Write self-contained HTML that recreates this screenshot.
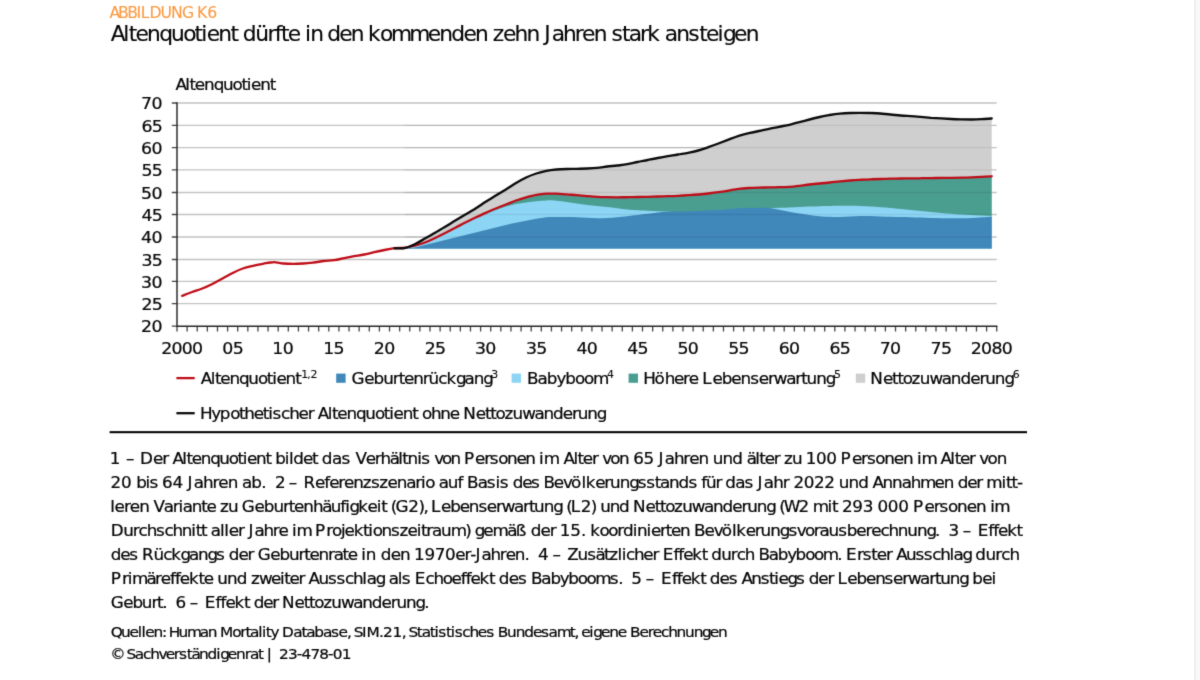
<!DOCTYPE html>
<html lang="de">
<head>
<meta charset="utf-8">
<title>Abbildung K6 – Altenquotient dürfte in den kommenden zehn Jahren stark ansteigen</title>
<style>
html,body{margin:0;padding:0;background:#fff}
body{width:1200px;height:680px;position:relative;overflow:hidden}
svg{position:absolute;left:0;top:0;display:block}
text{font-family:"DejaVu Sans","Liberation Sans",sans-serif;font-kerning:none;font-variant-ligatures:none;white-space:pre;stroke:currentColor;stroke-width:.22px;stroke-linejoin:round}
#fig{filter:url(#soft)}
text.sup,text.lab{stroke-width:.08px}
text.ttl{stroke-width:.14px}
.lab{font-size:15.7px;fill:#fb9940;color:#fb9940}
.ttl{font-size:21.4px;fill:#050505;color:#050505;transform:scaleX(1.0150)}
.t16{font-size:16px;fill:#050505;color:#050505;transform:scaleX(1.0500)}
.sup{font-size:10.5px;fill:#050505;color:#050505;transform:scaleX(1.0400)}
.src{font-size:14.6px;fill:#050505;color:#050505;transform:scaleX(1.0500)}
.axl text{font-size:16.7px;fill:#050505;color:#050505;transform:scaleX(1.0400)}
.grid{fill:none;stroke:#c2c2c2;stroke-width:1.3}
.grid2{fill:none;stroke:#000;stroke-opacity:.07;stroke-width:1.3}
.ln{fill:none;stroke-width:2.35;stroke-linejoin:round;stroke-linecap:round}
.ax{fill:none;stroke:#262626;stroke-width:1.45}
.tk{stroke:#444;stroke-width:1.3}
#edge{position:absolute;right:0;top:0;width:6px;height:680px;background:linear-gradient(90deg,#ececec 0,#f3f3f3 1.5px,#f8f8f8 3px,#f8f8f8 100%)}
</style>
</head>
<body>
<svg width="1200" height="680" viewBox="0 0 1200 680" role="img" aria-label="Abbildung K6: Altenquotient">
<defs><filter id="soft" x="0" y="0" width="1200" height="680" filterUnits="userSpaceOnUse" color-interpolation-filters="sRGB"><feConvolveMatrix order="3" kernelMatrix="0.0144 0.0912 0.0144 0.0912 0.5776 0.0912 0.0144 0.0912 0.0144" edgeMode="duplicate"/></filter></defs>
<g id="fig">
<g id="chart">
<path class="grid" d="M177.0,303.7H996.7M177.0,281.4H996.7M177.0,259.5H996.7M177.0,237.0H996.7M177.0,214.5H996.7M177.0,192.5H996.7M177.0,169.9H996.7M177.0,147.6H996.7M177.0,125.4H996.7M177.0,103.0H996.7"/>
<path fill="#cfcfcf" d="M404.7,248.0C406.4,247.4 411.4,245.8 414.8,244.2C418.2,242.6 421.6,240.5 424.9,238.6C428.3,236.7 431.7,234.8 435.1,232.8C438.4,230.8 441.8,228.8 445.2,226.8C448.6,224.8 451.9,222.6 455.3,220.6C458.7,218.6 462.0,216.6 465.4,214.6C468.8,212.6 472.2,210.6 475.5,208.5C478.9,206.4 482.3,204.0 485.7,201.8C489.0,199.7 492.4,197.7 495.8,195.6C499.2,193.5 502.5,191.5 505.9,189.4C509.3,187.3 512.6,185.0 516.0,183.0C519.4,181.0 522.8,179.1 526.1,177.5C529.5,175.9 532.9,174.6 536.3,173.5C539.6,172.4 543.0,171.5 546.4,170.8C549.8,170.1 553.1,169.8 556.5,169.5C559.9,169.2 563.2,169.1 566.6,169.0C570.0,168.9 573.4,168.9 576.7,168.8C580.1,168.7 583.5,168.7 586.9,168.5C590.2,168.3 593.6,168.1 597.0,167.8C600.4,167.5 603.7,166.9 607.1,166.5C610.5,166.1 613.8,165.9 617.2,165.5C620.6,165.1 624.0,164.8 627.3,164.2C630.7,163.6 634.1,162.7 637.5,162.0C640.8,161.3 644.2,160.7 647.6,160.0C651.0,159.3 654.3,158.6 657.7,158.0C661.1,157.4 664.4,156.8 667.8,156.2C671.2,155.6 674.6,155.1 677.9,154.5C681.3,153.9 684.7,153.5 688.1,152.8C691.4,152.1 694.8,151.4 698.2,150.5C701.6,149.6 704.9,148.4 708.3,147.2C711.7,146.0 715.0,144.8 718.4,143.5C721.8,142.2 725.2,140.9 728.5,139.6C731.9,138.3 735.3,136.9 738.7,135.8C742.0,134.7 745.4,134.0 748.8,133.2C752.2,132.4 755.5,131.7 758.9,131.0C762.3,130.3 765.6,129.5 769.0,128.8C772.4,128.1 775.8,127.5 779.1,126.8C782.5,126.1 785.9,125.6 789.3,124.8C792.6,124.0 796.0,123.1 799.4,122.2C802.8,121.3 806.1,120.4 809.5,119.5C812.9,118.6 816.2,117.8 819.6,117.0C823.0,116.2 826.4,115.6 829.7,115.0C833.1,114.4 836.5,113.9 839.9,113.6C843.2,113.3 846.6,113.1 850.0,113.0C853.4,112.9 856.7,112.8 860.1,112.8C863.5,112.8 866.8,112.9 870.2,113.0C873.6,113.1 877.0,113.2 880.3,113.5C883.7,113.8 887.1,114.2 890.5,114.5C893.8,114.8 897.2,115.2 900.6,115.5C904.0,115.8 907.3,115.9 910.7,116.1C914.1,116.3 917.4,116.6 920.8,116.9C924.2,117.2 927.6,117.5 930.9,117.8C934.3,118.0 937.7,118.2 941.1,118.4C944.4,118.6 947.8,118.8 951.2,119.0C954.6,119.2 957.9,119.3 961.3,119.4C964.7,119.5 968.0,119.5 971.4,119.5C974.8,119.5 978.2,119.4 981.5,119.2C984.9,119.0 990.0,118.6 991.7,118.5V248.5H404.7Z"/>
<path fill="#499e90" d="M404.7,247.8C406.4,247.4 411.4,246.4 414.8,245.5C418.2,244.6 421.6,243.8 424.9,242.5C428.3,241.2 431.7,239.6 435.1,238.0C438.4,236.4 441.8,234.7 445.2,233.0C448.6,231.3 451.9,229.6 455.3,227.8C458.7,226.1 462.0,224.2 465.4,222.5C468.8,220.8 472.2,219.1 475.5,217.5C478.9,215.9 482.3,214.3 485.7,212.8C489.0,211.3 492.4,209.9 495.8,208.5C499.2,207.1 502.5,205.8 505.9,204.5C509.3,203.2 512.6,201.7 516.0,200.5C519.4,199.3 522.8,198.2 526.1,197.3C529.5,196.4 532.9,195.5 536.3,194.9C539.6,194.3 543.0,193.9 546.4,193.7C549.8,193.5 553.1,193.6 556.5,193.7C559.9,193.8 563.2,194.2 566.6,194.4C570.0,194.7 573.4,194.9 576.7,195.2C580.1,195.5 583.5,195.8 586.9,196.1C590.2,196.4 593.6,196.6 597.0,196.8C600.4,197.0 603.7,197.1 607.1,197.2C610.5,197.3 613.8,197.3 617.2,197.3C620.6,197.3 624.0,197.2 627.3,197.2C630.7,197.1 634.1,197.1 637.5,197.0C640.8,196.9 644.2,196.9 647.6,196.8C651.0,196.7 654.3,196.6 657.7,196.5C661.1,196.4 664.4,196.3 667.8,196.2C671.2,196.1 674.6,196.0 677.9,195.8C681.3,195.6 684.7,195.4 688.1,195.2C691.4,195.0 694.8,194.8 698.2,194.5C701.6,194.2 704.9,193.9 708.3,193.5C711.7,193.1 715.0,192.7 718.4,192.2C721.8,191.7 725.2,191.2 728.5,190.6C731.9,190.0 735.3,189.2 738.7,188.8C742.0,188.4 745.4,188.2 748.8,188.0C752.2,187.8 755.5,187.7 758.9,187.6C762.3,187.5 765.6,187.5 769.0,187.4C772.4,187.3 775.8,187.3 779.1,187.2C782.5,187.1 785.9,187.0 789.3,186.8C792.6,186.6 796.0,186.2 799.4,185.8C802.8,185.4 806.1,184.9 809.5,184.5C812.9,184.1 816.2,183.8 819.6,183.5C823.0,183.2 826.4,182.8 829.7,182.5C833.1,182.2 836.5,181.7 839.9,181.4C843.2,181.1 846.6,180.8 850.0,180.5C853.4,180.2 856.7,180.0 860.1,179.8C863.5,179.6 866.8,179.4 870.2,179.3C873.6,179.2 877.0,179.1 880.3,179.0C883.7,178.9 887.1,178.8 890.5,178.7C893.8,178.6 897.2,178.6 900.6,178.5C904.0,178.4 907.3,178.4 910.7,178.3C914.1,178.2 917.4,178.2 920.8,178.2C924.2,178.1 927.6,178.1 930.9,178.1C934.3,178.0 937.7,178.0 941.1,177.9C944.4,177.9 947.8,177.8 951.2,177.8C954.6,177.8 957.9,177.8 961.3,177.7C964.7,177.6 968.0,177.5 971.4,177.4C974.8,177.3 978.2,177.1 981.5,176.9C984.9,176.7 990.0,176.4 991.7,176.3V248.5H404.7Z"/>
<path fill="#8dd5f5" d="M404.7,248.4C406.4,248.0 411.4,246.9 414.8,246.0C418.2,245.1 421.6,244.2 424.9,243.0C428.3,241.8 431.7,240.1 435.1,238.5C438.4,236.9 441.8,235.2 445.2,233.5C448.6,231.8 451.9,230.1 455.3,228.3C458.7,226.6 462.0,224.7 465.4,223.0C468.8,221.3 472.2,219.8 475.5,218.3C478.9,216.8 482.3,215.4 485.7,214.0C489.0,212.6 492.4,211.2 495.8,210.0C499.2,208.8 502.5,207.5 505.9,206.5C509.3,205.5 512.6,204.7 516.0,204.0C519.4,203.3 522.8,203.0 526.1,202.5C529.5,202.0 532.9,201.5 536.3,201.2C539.6,200.8 543.0,200.5 546.4,200.4C549.8,200.3 553.1,200.5 556.5,200.8C559.9,201.1 563.2,201.7 566.6,202.1C570.0,202.5 573.4,203.0 576.7,203.5C580.1,204.0 583.5,204.6 586.9,205.0C590.2,205.4 593.6,205.8 597.0,206.1C600.4,206.4 603.7,206.7 607.1,207.1C610.5,207.5 613.8,207.9 617.2,208.3C620.6,208.7 624.0,209.2 627.3,209.5C630.7,209.8 634.1,210.0 637.5,210.2C640.8,210.4 644.2,210.6 647.6,210.8C651.0,211.0 654.3,211.1 657.7,211.2C661.1,211.3 664.4,211.4 667.8,211.6C671.2,211.8 674.6,212.3 677.9,212.5C681.3,212.7 684.7,212.9 688.1,213.0C691.4,213.1 694.8,213.1 698.2,213.0C701.6,212.9 704.9,212.7 708.3,212.5C711.7,212.3 715.0,212.2 718.4,212.0C721.8,211.8 725.2,211.3 728.5,211.0C731.9,210.7 735.3,210.3 738.7,210.0C742.0,209.7 745.4,209.2 748.8,209.0C752.2,208.8 755.5,208.6 758.9,208.5C762.3,208.4 765.6,208.3 769.0,208.2C772.4,208.1 775.8,207.9 779.1,207.8C782.5,207.7 785.9,207.6 789.3,207.5C792.6,207.4 796.0,207.2 799.4,207.0C802.8,206.8 806.1,206.6 809.5,206.5C812.9,206.4 816.2,206.3 819.6,206.2C823.0,206.1 826.4,206.1 829.7,206.0C833.1,205.9 836.5,205.7 839.9,205.7C843.2,205.7 846.6,205.8 850.0,205.8C853.4,205.9 856.7,205.9 860.1,206.0C863.5,206.1 866.8,206.3 870.2,206.5C873.6,206.7 877.0,206.9 880.3,207.2C883.7,207.4 887.1,207.7 890.5,208.0C893.8,208.3 897.2,208.7 900.6,209.0C904.0,209.3 907.3,209.6 910.7,209.9C914.1,210.2 917.4,210.6 920.8,210.9C924.2,211.2 927.6,211.6 930.9,211.9C934.3,212.2 937.7,212.7 941.1,213.0C944.4,213.3 947.8,213.6 951.2,213.8C954.6,214.1 957.9,214.3 961.3,214.5C964.7,214.7 968.0,214.8 971.4,215.0C974.8,215.2 978.2,215.4 981.5,215.5C984.9,215.6 990.0,215.8 991.7,215.8V248.5H404.7Z"/>
<path fill="#4087ba" d="M404.7,248.4C406.4,248.2 411.4,248.1 414.8,247.5C418.2,246.9 421.6,245.8 424.9,245.0C428.3,244.2 431.7,243.3 435.1,242.5C438.4,241.7 441.8,240.8 445.2,240.0C448.6,239.2 451.9,238.3 455.3,237.5C458.7,236.7 462.0,235.8 465.4,235.0C468.8,234.2 472.2,233.3 475.5,232.5C478.9,231.7 482.3,230.8 485.7,230.0C489.0,229.2 492.4,228.3 495.8,227.5C499.2,226.7 502.5,225.8 505.9,225.0C509.3,224.2 512.6,223.5 516.0,222.8C519.4,222.1 522.8,221.5 526.1,220.8C529.5,220.1 532.9,219.4 536.3,218.8C539.6,218.2 543.0,217.5 546.4,217.2C549.8,216.9 553.1,217.0 556.5,217.0C559.9,217.0 563.2,217.0 566.6,217.0C570.0,217.0 573.4,217.1 576.7,217.2C580.1,217.3 583.5,217.6 586.9,217.8C590.2,218.0 593.6,218.2 597.0,218.2C600.4,218.2 603.7,218.2 607.1,218.0C610.5,217.8 613.8,217.5 617.2,217.2C620.6,216.9 624.0,216.6 627.3,216.2C630.7,215.8 634.1,215.4 637.5,215.0C640.8,214.6 644.2,214.2 647.6,213.8C651.0,213.4 654.3,212.9 657.7,212.5C661.1,212.1 664.4,211.7 667.8,211.5C671.2,211.3 674.6,211.6 677.9,211.5C681.3,211.4 684.7,211.3 688.1,211.2C691.4,211.1 694.8,211.1 698.2,211.0C701.6,210.9 704.9,210.7 708.3,210.5C711.7,210.3 715.0,210.2 718.4,210.0C721.8,209.8 725.2,209.5 728.5,209.2C731.9,208.9 735.3,208.4 738.7,208.2C742.0,208.0 745.4,208.0 748.8,208.0C752.2,208.0 755.5,208.0 758.9,208.0C762.3,208.0 765.6,207.7 769.0,208.0C772.4,208.3 775.8,209.2 779.1,209.8C782.5,210.4 785.9,211.2 789.3,211.8C792.6,212.4 796.0,213.0 799.4,213.5C802.8,214.0 806.1,214.6 809.5,215.0C812.9,215.4 816.2,215.9 819.6,216.2C823.0,216.5 826.4,216.7 829.7,216.8C833.1,216.9 836.5,217.1 839.9,217.0C843.2,216.9 846.6,216.6 850.0,216.4C853.4,216.2 856.7,216.1 860.1,216.0C863.5,215.9 866.8,215.9 870.2,216.0C873.6,216.1 877.0,216.4 880.3,216.5C883.7,216.6 887.1,216.7 890.5,216.8C893.8,216.9 897.2,217.0 900.6,217.1C904.0,217.2 907.3,217.2 910.7,217.3C914.1,217.4 917.4,217.5 920.8,217.6C924.2,217.7 927.6,217.9 930.9,218.0C934.3,218.1 937.7,218.1 941.1,218.2C944.4,218.2 947.8,218.3 951.2,218.3C954.6,218.3 957.9,218.4 961.3,218.3C964.7,218.2 968.0,218.1 971.4,218.0C974.8,217.9 978.2,217.7 981.5,217.5C984.9,217.3 990.0,216.9 991.7,216.8V248.5H404.7Z"/>
<path class="grid2" d="M404.7,237.0H991.7M404.7,214.5H991.7M404.7,192.5H991.7M404.7,169.9H991.7M404.7,147.6H991.7M404.7,125.4H991.7"/>
<path class="ln" stroke="#bf0d18" d="M182.1,295.8C183.7,295.2 188.8,293.2 192.2,292.0C195.6,290.8 198.9,289.8 202.3,288.5C205.7,287.2 209.0,285.7 212.4,284.0C215.8,282.3 219.2,280.3 222.5,278.5C225.9,276.7 229.3,274.7 232.7,273.0C236.0,271.3 239.4,269.7 242.8,268.5C246.2,267.3 249.5,266.6 252.9,265.8C256.3,265.0 259.6,264.4 263.0,263.8C266.4,263.2 269.8,262.2 273.1,262.2C276.5,262.1 279.9,263.2 283.3,263.5C286.6,263.8 290.0,263.9 293.4,263.9C296.8,263.9 300.1,263.7 303.5,263.5C306.9,263.3 310.2,262.9 313.6,262.5C317.0,262.1 320.4,261.4 323.7,261.0C327.1,260.6 330.5,260.7 333.9,260.2C337.2,259.7 340.6,258.9 344.0,258.2C347.4,257.5 350.7,256.8 354.1,256.2C357.5,255.6 360.8,255.2 364.2,254.5C367.6,253.8 371.0,252.9 374.3,252.2C377.7,251.4 381.1,250.7 384.5,250.0C387.8,249.3 391.2,248.6 394.6,248.2C398.0,247.8 401.3,248.2 404.7,247.8C408.1,247.4 411.4,246.4 414.8,245.5C418.2,244.6 421.6,243.8 424.9,242.5C428.3,241.2 431.7,239.6 435.1,238.0C438.4,236.4 441.8,234.7 445.2,233.0C448.6,231.3 451.9,229.6 455.3,227.8C458.7,226.1 462.0,224.2 465.4,222.5C468.8,220.8 472.2,219.1 475.5,217.5C478.9,215.9 482.3,214.3 485.7,212.8C489.0,211.3 492.4,209.9 495.8,208.5C499.2,207.1 502.5,205.8 505.9,204.5C509.3,203.2 512.6,201.7 516.0,200.5C519.4,199.3 522.8,198.2 526.1,197.3C529.5,196.4 532.9,195.5 536.3,194.9C539.6,194.3 543.0,193.9 546.4,193.7C549.8,193.5 553.1,193.6 556.5,193.7C559.9,193.8 563.2,194.2 566.6,194.4C570.0,194.7 573.4,194.9 576.7,195.2C580.1,195.5 583.5,195.8 586.9,196.1C590.2,196.4 593.6,196.6 597.0,196.8C600.4,197.0 603.7,197.1 607.1,197.2C610.5,197.3 613.8,197.3 617.2,197.3C620.6,197.3 624.0,197.2 627.3,197.2C630.7,197.1 634.1,197.1 637.5,197.0C640.8,196.9 644.2,196.9 647.6,196.8C651.0,196.7 654.3,196.6 657.7,196.5C661.1,196.4 664.4,196.3 667.8,196.2C671.2,196.1 674.6,196.0 677.9,195.8C681.3,195.6 684.7,195.4 688.1,195.2C691.4,195.0 694.8,194.8 698.2,194.5C701.6,194.2 704.9,193.9 708.3,193.5C711.7,193.1 715.0,192.7 718.4,192.2C721.8,191.7 725.2,191.2 728.5,190.6C731.9,190.0 735.3,189.2 738.7,188.8C742.0,188.4 745.4,188.2 748.8,188.0C752.2,187.8 755.5,187.7 758.9,187.6C762.3,187.5 765.6,187.5 769.0,187.4C772.4,187.3 775.8,187.3 779.1,187.2C782.5,187.1 785.9,187.0 789.3,186.8C792.6,186.6 796.0,186.2 799.4,185.8C802.8,185.4 806.1,184.9 809.5,184.5C812.9,184.1 816.2,183.8 819.6,183.5C823.0,183.2 826.4,182.8 829.7,182.5C833.1,182.2 836.5,181.7 839.9,181.4C843.2,181.1 846.6,180.8 850.0,180.5C853.4,180.2 856.7,180.0 860.1,179.8C863.5,179.6 866.8,179.4 870.2,179.3C873.6,179.2 877.0,179.1 880.3,179.0C883.7,178.9 887.1,178.8 890.5,178.7C893.8,178.6 897.2,178.6 900.6,178.5C904.0,178.4 907.3,178.4 910.7,178.3C914.1,178.2 917.4,178.2 920.8,178.2C924.2,178.1 927.6,178.1 930.9,178.1C934.3,178.0 937.7,178.0 941.1,177.9C944.4,177.9 947.8,177.8 951.2,177.8C954.6,177.8 957.9,177.8 961.3,177.7C964.7,177.6 968.0,177.5 971.4,177.4C974.8,177.3 978.2,177.1 981.5,176.9C984.9,176.7 990.0,176.4 991.7,176.3"/>
<path class="ln" stroke="#0a0a0a" d="M394.6,248.2C396.3,248.2 401.3,248.7 404.7,248.0C408.1,247.3 411.4,245.8 414.8,244.2C418.2,242.6 421.6,240.5 424.9,238.6C428.3,236.7 431.7,234.8 435.1,232.8C438.4,230.8 441.8,228.8 445.2,226.8C448.6,224.8 451.9,222.6 455.3,220.6C458.7,218.6 462.0,216.6 465.4,214.6C468.8,212.6 472.2,210.6 475.5,208.5C478.9,206.4 482.3,204.0 485.7,201.8C489.0,199.7 492.4,197.7 495.8,195.6C499.2,193.5 502.5,191.5 505.9,189.4C509.3,187.3 512.6,185.0 516.0,183.0C519.4,181.0 522.8,179.1 526.1,177.5C529.5,175.9 532.9,174.6 536.3,173.5C539.6,172.4 543.0,171.5 546.4,170.8C549.8,170.1 553.1,169.8 556.5,169.5C559.9,169.2 563.2,169.1 566.6,169.0C570.0,168.9 573.4,168.9 576.7,168.8C580.1,168.7 583.5,168.7 586.9,168.5C590.2,168.3 593.6,168.1 597.0,167.8C600.4,167.5 603.7,166.9 607.1,166.5C610.5,166.1 613.8,165.9 617.2,165.5C620.6,165.1 624.0,164.8 627.3,164.2C630.7,163.6 634.1,162.7 637.5,162.0C640.8,161.3 644.2,160.7 647.6,160.0C651.0,159.3 654.3,158.6 657.7,158.0C661.1,157.4 664.4,156.8 667.8,156.2C671.2,155.6 674.6,155.1 677.9,154.5C681.3,153.9 684.7,153.5 688.1,152.8C691.4,152.1 694.8,151.4 698.2,150.5C701.6,149.6 704.9,148.4 708.3,147.2C711.7,146.0 715.0,144.8 718.4,143.5C721.8,142.2 725.2,140.9 728.5,139.6C731.9,138.3 735.3,136.9 738.7,135.8C742.0,134.7 745.4,134.0 748.8,133.2C752.2,132.4 755.5,131.7 758.9,131.0C762.3,130.3 765.6,129.5 769.0,128.8C772.4,128.1 775.8,127.5 779.1,126.8C782.5,126.1 785.9,125.6 789.3,124.8C792.6,124.0 796.0,123.1 799.4,122.2C802.8,121.3 806.1,120.4 809.5,119.5C812.9,118.6 816.2,117.8 819.6,117.0C823.0,116.2 826.4,115.6 829.7,115.0C833.1,114.4 836.5,113.9 839.9,113.6C843.2,113.3 846.6,113.1 850.0,113.0C853.4,112.9 856.7,112.8 860.1,112.8C863.5,112.8 866.8,112.9 870.2,113.0C873.6,113.1 877.0,113.2 880.3,113.5C883.7,113.8 887.1,114.2 890.5,114.5C893.8,114.8 897.2,115.2 900.6,115.5C904.0,115.8 907.3,115.9 910.7,116.1C914.1,116.3 917.4,116.6 920.8,116.9C924.2,117.2 927.6,117.5 930.9,117.8C934.3,118.0 937.7,118.2 941.1,118.4C944.4,118.6 947.8,118.8 951.2,119.0C954.6,119.2 957.9,119.3 961.3,119.4C964.7,119.5 968.0,119.5 971.4,119.5C974.8,119.5 978.2,119.4 981.5,119.2C984.9,119.0 990.0,118.6 991.7,118.5"/>
<path class="ax tk" d="M177.00,326.2v5.4M187.12,326.2v5.4M197.24,326.2v5.4M207.36,326.2v5.4M217.48,326.2v5.4M227.60,326.2v5.4M237.72,326.2v5.4M247.84,326.2v5.4M257.96,326.2v5.4M268.08,326.2v5.4M278.20,326.2v5.4M288.32,326.2v5.4M298.44,326.2v5.4M308.56,326.2v5.4M318.68,326.2v5.4M328.80,326.2v5.4M338.92,326.2v5.4M349.04,326.2v5.4M359.16,326.2v5.4M369.28,326.2v5.4M379.40,326.2v5.4M389.52,326.2v5.4M399.64,326.2v5.4M409.76,326.2v5.4M419.88,326.2v5.4M430.00,326.2v5.4M440.12,326.2v5.4M450.24,326.2v5.4M460.36,326.2v5.4M470.48,326.2v5.4M480.60,326.2v5.4M490.72,326.2v5.4M500.84,326.2v5.4M510.96,326.2v5.4M521.08,326.2v5.4M531.20,326.2v5.4M541.32,326.2v5.4M551.44,326.2v5.4M561.56,326.2v5.4M571.68,326.2v5.4M581.80,326.2v5.4M591.92,326.2v5.4M602.04,326.2v5.4M612.16,326.2v5.4M622.28,326.2v5.4M632.40,326.2v5.4M642.52,326.2v5.4M652.64,326.2v5.4M662.76,326.2v5.4M672.88,326.2v5.4M683.00,326.2v5.4M693.12,326.2v5.4M703.24,326.2v5.4M713.36,326.2v5.4M723.48,326.2v5.4M733.60,326.2v5.4M743.72,326.2v5.4M753.84,326.2v5.4M763.96,326.2v5.4M774.08,326.2v5.4M784.20,326.2v5.4M794.32,326.2v5.4M804.44,326.2v5.4M814.56,326.2v5.4M824.68,326.2v5.4M834.80,326.2v5.4M844.92,326.2v5.4M855.04,326.2v5.4M865.16,326.2v5.4M875.28,326.2v5.4M885.40,326.2v5.4M895.52,326.2v5.4M905.64,326.2v5.4M915.76,326.2v5.4M925.88,326.2v5.4M936.00,326.2v5.4M946.12,326.2v5.4M956.24,326.2v5.4M966.36,326.2v5.4M976.48,326.2v5.4M986.60,326.2v5.4M996.72,326.2v5.4M177.0,326.2h-5.2M177.0,303.7h-5.2M177.0,281.4h-5.2M177.0,259.5h-5.2M177.0,237.0h-5.2M177.0,214.5h-5.2M177.0,192.5h-5.2M177.0,169.9h-5.2M177.0,147.6h-5.2M177.0,125.4h-5.2M177.0,103.0h-5.2"/>
<path class="ax" stroke-linecap="square" d="M177.0,103.0V326.2H996.72"/>
</g>
<g id="legend-keys">
<path stroke="#bf0d18" stroke-width="2.3" d="M176.4,378.1H194.7"/>
<path stroke="#0a0a0a" stroke-width="2.3" d="M176.4,413.2H194.7"/>
<rect x="336.2" y="373.6" width="9.4" height="9.2" fill="#4087ba"/>
<rect x="511.6" y="373.6" width="9.4" height="9.2" fill="#8dd5f5"/>
<rect x="628.6" y="373.6" width="9.4" height="9.2" fill="#499e90"/>
<rect x="855.8" y="373.6" width="9.4" height="9.2" fill="#cfcfcf"/>
</g>
<rect id="rule" x="109.6" y="431.15" width="917.4" height="2.05" fill="#000"/>
<g id="axis-labels" class="axl">
<text x="135.7 145.6" y="332.5">20</text>
<text x="136 145.9" y="310">25</text>
<text x="135.7 145.6" y="287.7">30</text>
<text x="136 145.9" y="265.8">35</text>
<text x="135.7 145.6" y="243.3">40</text>
<text x="136 145.9" y="220.8">45</text>
<text x="135.7 145.6" y="198.8">50</text>
<text x="136 145.9" y="176.2">55</text>
<text x="135.7 145.6" y="153.9">60</text>
<text x="136 145.9" y="131.7">65</text>
<text x="135.7 145.6" y="109.3">70</text>
<text x="155 164.9 174.8 184.7" y="353.6">2000</text>
<text x="213.8 223.7" y="353.6">05</text>
<text x="261.9 271.8" y="353.6">10</text>
<text x="310.8 320.7" y="353.6">15</text>
<text x="359.5 369.4" y="353.6">20</text>
<text x="408.4 418.3" y="353.6">25</text>
<text x="456.8 466.7" y="353.6">30</text>
<text x="505.7 515.6" y="353.6">35</text>
<text x="554.4 564.3" y="353.6">40</text>
<text x="603.2 613.1" y="353.6">45</text>
<text x="651.4 661.3" y="353.6">50</text>
<text x="700.3 710.2" y="353.6">55</text>
<text x="748.8 758.7" y="353.6">60</text>
<text x="797.6 807.5" y="353.6">65</text>
<text x="846 855.9" y="353.6">70</text>
<text x="894.8 904.7" y="353.6">75</text>
<text x="933.5 943.4 953.3 963.2" y="353.6">2080</text>
</g>
<g id="text">
<text class="lab" y="18.3"><tspan x="109.5 118.1 127.2 136.4 140.7 149.5 160.5 171.1 182">ABBILDUNG</tspan> <tspan x="197.1 207.3">K6</tspan></text>
<text class="ttl" y="41.5"><tspan x="109.2 121.5 126.8 133.5 144.9 156.9 168.4 180.5 191.6 198.2 203.6 215.1 227.1">Altenquotient</tspan> <tspan x="239.2 251.4 263.5 270.7 276.9 283.5">dürfte</tspan> <tspan x="300.4 305.6">in</tspan> <tspan x="322.4 334.3 345.5">den</tspan> <tspan x="362.6 374.3 385.3 403.3 421.4 432.7 444.6 456.7 468">kommenden</tspan> <tspan x="485.4 495.6 507 518.6">zehn</tspan> <tspan x="536.1 543.5 554.8 566.3 573.5 584.9">Jahren</tspan> <tspan x="602.4 612.8 619.4 630.6 637.7">stark</tspan> <tspan x="654.9 666.2 678.2 688.8 695.5 707 712.4 723.2 734.7">ansteigen</tspan></text>
<text class="t16" y="90"><tspan x="167.1 176.5 180.6 185.6 194.3 203.5 212.3 221.5 229.9 235 239.1 247.8 257">Altenquotient</tspan></text>
<text class="t16" y="384"><tspan x="191.3 200.7 204.7 209.8 218.5 227.7 236.5 245.7 254.1 259.2 263.3 272 281.2">Altenquotient</tspan></text>
<text class="sup" y="377.8"><tspan x="289.6 295.5 298.5">1,2</tspan></text>
<text class="t16" y="384"><tspan x="334.7 346.9 355.7 364.9 374.1 379.7 384.7 393.5 402.7 408.2 417.5 425.2 434.3 442.4 451.1 460.2">Geburtenrückgang</tspan></text>
<text class="sup" y="377.8"><tspan x="472.4">3</tspan></text>
<text class="t16" y="384"><tspan x="501.9 512 520.8 530.1 538.3 547.6 556.2 564.8">Babyboom</tspan></text>
<text class="sup" y="377.8"><tspan x="583.7">4</tspan></text>
<text class="t16" y="384"><tspan x="612.7 623.3 633.1 641.9 650.5 656">Höhere</tspan> <tspan x="668.9 678.5 687.3 696.5 705.3 714.5 722.6 731.4 737 748.8 757.4 763 768.1 777.3 786.5">Lebenserwartung</tspan></text>
<text class="sup" y="377.8"><tspan x="801.9">5</tspan></text>
<text class="t16" y="384"><tspan x="828.9 840.9 849.6 854.7 859.7 868.2 876 885.2 896.9 905.5 914.7 924 932.8 938.3 947.5 956.6">Nettozuwanderung</tspan></text>
<text class="sup" y="377.8"><tspan x="973.9">6</tspan></text>
<text class="t16" y="418.6"><tspan x="190.4 201.1 209.2 219.2 227.7 232.7 241.6 250.3 255.4 259.5 267.6 275.4 284.2 293">Hypothetischer</tspan> <tspan x="302.7 312.1 316.2 321.2 330 339.1 347.9 357.1 365.6 370.7 374.8 383.6 392.7">Altenquotient</tspan> <tspan x="402 410.4 419.2 428.4">ohne</tspan> <tspan x="441.3 453.2 461.9 466.9 472 480.4 488.2 497.3 509 517.6 526.7 536 544.7 550.2 559.3 568.4">Nettozuwanderung</tspan></text>
<text class="t16" y="463.6"><tspan x="104.6">1</tspan> <tspan x="119.9">–</tspan> <tspan x="133.4 145.6 154.5">Der</tspan> <tspan x="164.4 173.6 177.6 182.6 191.2 200.2 208.9 217.9 226.3 231.3 235.3 243.9 252.9">Altenquotient</tspan> <tspan x="262.1 271.2 275.3 279.3 288.6 297.2">bildet</tspan> <tspan x="306.5 316.2 325.2">das</tspan> <tspan x="338.6 348.3 356.9 362.4 371.1 379.2 383.2 388.2 397.3 401.3">Verhältnis</tspan> <tspan x="413.5 420.9 429.1">von</tspan> <tspan x="442 452.5 461.1 466.5 474.5 482.8 491.8 500.3">Personen</tspan> <tspan x="513.4 517.8">im</tspan> <tspan x="536.7 546.1 550.1 555.1 563.8">Alter</tspan> <tspan x="573.5 581.2 589.6">von</tspan> <tspan x="603 612.9">65</tspan> <tspan x="627.2 633 641.8 650.8 656.4 665.3">Jahren</tspan> <tspan x="678.9 688.2 697.5">und</tspan> <tspan x="711.1 719.2 723.2 728.3 736.9">älter</tspan> <tspan x="746.6 754.3">zu</tspan> <tspan x="767.5 777.1 786.8">100</tspan> <tspan x="800.6 811.4 820.1 825.7 833.7 842.2 851.3 860.1">Personen</tspan> <tspan x="873.4 877.6">im</tspan> <tspan x="895.8 905.1 909.2 914.2 922.9">Alter</tspan> <tspan x="932.6 940.6 949.4">von</tspan></text>
<text class="t16" y="487.8"><tspan x="105.2 115.3">20</tspan> <tspan x="129.7 138.5 142.4">bis</tspan> <tspan x="154.2 164.3">64</tspan> <tspan x="178.6 184.5 193.3 202.3 207.9 216.9">Jahren</tspan> <tspan x="230.6 239.4 248.8">ab.</tspan> <tspan x="261.8">2</tspan> <tspan x="275.1">–</tspan> <tspan x="289 300.1 308.8 313.5 322.2 327.7 336.4 345.5 353.3 361.3 369.1 377.8 386.9 395.5 401 405.1">Referenzszenario</tspan> <tspan x="417.8 426.5 435.8">auf</tspan> <tspan x="444.8 454.9 463.6 471.8 475.9">Basis</tspan> <tspan x="488.4 497.3 505.7">des</tspan> <tspan x="517.6 527.5 536.3 543.9 553.7 557.8 566.8 575.5 581 590.2 599.3 607.5 615.5 623.6 628.6 637.2 646.3 655.7">Bevölkerungsstands</tspan> <tspan x="667.9 672.5 681.4">für</tspan> <tspan x="690.8 700.3 709">das</tspan> <tspan x="721.5 727.4 736.4 745.5">Jahr</tspan> <tspan x="755.7 765.4 775.2 784.9">2022</tspan> <tspan x="798.9 808.2 817.4">und</tspan> <tspan x="831 840.4 849.6 858.7 867.3 876.1 890.1 898.8">Annahmen</tspan> <tspan x="912.2 921.2 929.7">der</tspan> <tspan x="939.2 953.7 958.1 963.3 968.6">mitt-</tspan></text>
<text class="t16" y="511.9"><tspan x="104.9 109 118 123.6 132.6">leren</tspan> <tspan x="146.3 155.9 164.5 169.9 174 182.6 191.6 196.7">Variante</tspan> <tspan x="209.5 217.1">zu</tspan> <tspan x="230.2 242.4 251.2 260.4 269.5 275.1 280.1 288.9 298 306.8 314.9 324.1 328.8 332.9 341.1 350.1 358.8 363">Geburtenhäufigkeit</tspan> <tspan x="372.2 376.6 388.7 398.5 403.4">(G2),</tspan> <tspan x="410.5 420 428.7 437.8 446.5 455.7 463.7 472.4 477.9 489.6 498.2 503.7 508.7 517.8 527">Lebenserwartung</tspan> <tspan x="539.3 543.6 553 562.6">(L2)</tspan> <tspan x="571.7 580.7 589.6">und</tspan> <tspan x="602.9 614.8 623.5 628.5 633.5 642 649.7 658.8 670.5 679.1 688.1 697.4 706.1 711.6 720.7 729.8">Nettozuwanderung</tspan> <tspan x="742.1 746.4 760.4">(W2</tspan> <tspan x="774.1 788.2 792.4">mit</tspan> <tspan x="801.8 811.7 821.6">293</tspan> <tspan x="835.8 845.6 855.5">000</tspan> <tspan x="869.6 880.4 889.2 894.8 902.9 911.5 920.7 929.5">Personen</tspan> <tspan x="943 946.9">im</tspan></text>
<text class="t16" y="536"><tspan x="105.4 117.4 126.5 132 139.8 148.6 156.6 164.3 173.1 182.2 186.4 191.4">Durchschnitt</tspan> <tspan x="200.7 209.5 213.6 217.8 226.7">aller</tspan> <tspan x="236.7 242.4 251 259.8 265.3">Jahre</tspan> <tspan x="278.2 282.3">im</tspan> <tspan x="300 310.8 316.3 324.7 328.1 336.8 345.7 350.8 354.9 363.3 372.4 380.4 388.2 396.9 401 406 411.5 420.1 429.2 443">Projektionszeitraum)</tspan> <tspan x="452.2 460.3 469.1 483 491.1">gemäß</tspan> <tspan x="505.5 514.8 523.5">der</tspan> <tspan x="533.2 543.2 553.3">15.</tspan> <tspan x="562.1 571 579.4 587.9 593.3 602.6 606.7 615.8 619.9 628.5 634 639.1 647.7">koordinierten</tspan> <tspan x="661 671 679.7 687.3 697.2 701.2 710.2 718.9 724.4 733.6 742.7 750.9 758.9 766.6 775 780.5 789.1 798.3 806.4 815.5 824.2 829.8 838.5 846.2 855 864.1 873.3 882.4 890.5">Bevölkerungsvorausberechnung.</tspan> <tspan x="903.3">3</tspan> <tspan x="917">–</tspan> <tspan x="931.1 941.3 946 950.6 959.2 968.1">Effekt</tspan></text>
<text class="t16" y="560.2"><tspan x="105.5 114.6 123.2">des</tspan> <tspan x="135.3 146.3 155.4 163.1 172 180.1 188.6 197.6 205.7">Rückgangs</tspan> <tspan x="217.9 227.1 235.8">der</tspan> <tspan x="245.5 257.5 266.1 275.2 284.3 289.7 294.7 303.3 312.4 317.8 326.3 331.3">Geburtenrate</tspan> <tspan x="344.1 348.4">in</tspan> <tspan x="362.6 372.1 380.9">den</tspan> <tspan x="394.4 404.2 414 423.8 433.5 442.3 447.8 452.9 458.6 467.2 476 481.6 490.3 499.5">1970er-Jahren.</tspan> <tspan x="512.3">4</tspan> <tspan x="526.1">–</tspan> <tspan x="540.3 550 559.2 567.2 575.3 580.3 588.1 592.1 596.2 603.9 612.7 621.4">Zusätzlicher</tspan> <tspan x="631.1 641.4 646 650.7 659.4 668.3">Effekt</tspan> <tspan x="677.5 686.8 696 701.6 709.3">durch</tspan> <tspan x="722.3 732.2 740.7 749.8 757.7 766.8 775.2 783.6 797.3">Babyboom.</tspan> <tspan x="805.8 816.2 821.7 829.8 834.9 843.7">Erster</tspan> <tspan x="853.5 862.8 871.9 879.8 887.8 895.5 904.2 908.2 916.7">Ausschlag</tspan> <tspan x="928.9 938.5 947.8 953.5 961.4">durch</tspan></text>
<text class="t16" y="584.4"><tspan x="105.4 116.1 121.6 125.8 139.6 147.7 153.2 161.9 166.6 171.3 180 189 194">Primäreffekte</tspan> <tspan x="206.9 216.2 225.4">und</tspan> <tspan x="239 246.6 258.1 266.7 270.8 275.7 284.3">zweiter</tspan> <tspan x="293.9 303.3 312.5 320.5 328.6 336.3 345.1 349.2 357.8">Ausschlag</tspan> <tspan x="370.2 378.7 382.7">als</tspan> <tspan x="394.9 405.2 412.9 421.7 430.1 438.8 443.5 448.1 456.8 465.8">Echoeffekt</tspan> <tspan x="475 484.5 493.3">des</tspan> <tspan x="505.8 515.6 524.2 533.2 541.2 550.3 558.6 567 580.8 588.7">Babybooms.</tspan> <tspan x="601.3">5</tspan> <tspan x="615.1">–</tspan> <tspan x="629.6 639.9 644.5 649.2 657.8 666.8">Effekt</tspan> <tspan x="676 685.3 694">des</tspan> <tspan x="706.3 715.5 724.5 732.5 737.4 741.5 750.1 758.2">Anstiegs</tspan> <tspan x="770.3 779.4 788">der</tspan> <tspan x="797.6 807 815.7 824.8 833.5 842.5 850.5 859.2 864.7 876.3 884.9 890.4 895.4 904.5 913.6">Lebenserwartung</tspan> <tspan x="925.9 935.4 944.4">bei</tspan></text>
<text class="t16" y="608.5"><tspan x="105.5 117.5 126.1 135.1 144.2 149.6 154.6">Geburt.</tspan> <tspan x="167.2">6</tspan> <tspan x="180.8">–</tspan> <tspan x="194.9 205.3 210 214.7 223.4 232.4">Effekt</tspan> <tspan x="241.7 250.7 259.2">der</tspan> <tspan x="268.6 280.5 289.3 294.3 299.3 307.8 315.5 324.7 336.4 344.9 354.1 363.3 372.1 377.6 386.7 395.8 404">Nettozuwanderung.</tspan></text>
<text class="src" y="637.4"><tspan x="105.5 115.3 123.4 131.2 134.8 138.4 146.1 154.2">Quellen:</tspan> <tspan x="160.7 170 178.1 190.3 197.9">Human</tspan> <tspan x="209.6 221.1 228.7 233.7 238.2 245.9 249.5 253.2 257.7">Mortality</tspan> <tspan x="268.7 279.4 287.1 291.7 299.4 307.6 315.3 322.5 330.4">Database,</tspan> <tspan x="336.8 344.8 349.1 360.9 364.8 373.7 382.6">SIM.21,</tspan> <tspan x="389.1 397 401.6 409.3 413.8 417.5 424.8 429.3 433 440.3 447.2 455.1 463">Statistisches</tspan> <tspan x="474 482.9 491.1 499.2 507.6 515.3 522.5 530.2 542.6 547.1">Bundesamt,</tspan> <tspan x="553.5 561.3 565 572.4 580.2 588.4">eigene</tspan> <tspan x="600.1 609 616.8 621.7 629.5 636.4 644.2 652.4 660.6 668.7 676 683.8">Berechnungen</tspan></text>
<text class="src" y="659.2"><tspan x="105">©</tspan> <tspan x="120.6 128.4 136.1 143.1 150.9 157.8 165.6 170.5 177.8 182.3 189.5 197.7 206 209.7 217 224.8 233 238 245.7">Sachverständigenrat</tspan> <tspan x="254">|</tspan> <tspan x="265.8 274.3 282.7 287.1 295.6 304.1 312.5 316.9 325.4">23-478-01</tspan></text>
</g>
</g>
</svg>
<div id="edge"></div>
</body>
</html>
